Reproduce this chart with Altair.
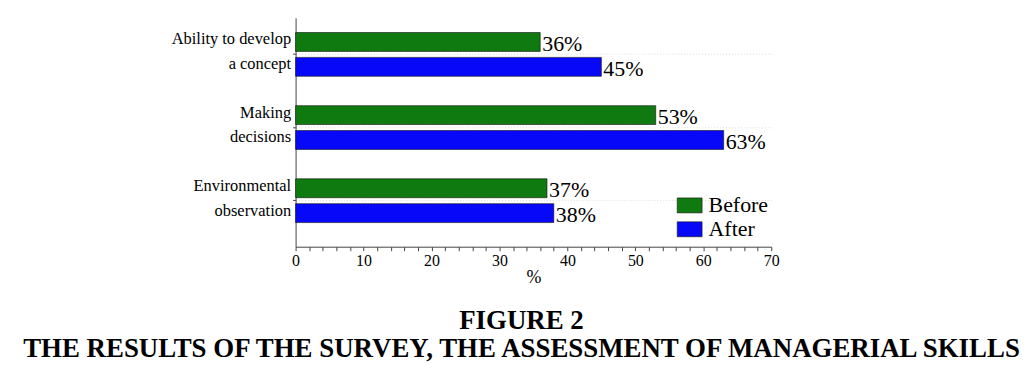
import altair as alt
import pandas as pd

categories = ["Ability to develop\na concept", "Making\ndecisions", "Environmental\nobservation"]
series = ["Before", "After"]
before = [36, 53, 37]
after = [45, 63, 38]
colors = ["#0f7a0f", "#0808f8"]
x_ticks = list(range(0, 71, 2))
title_lines = ["FIGURE 2", "THE RESULTS OF THE SURVEY, THE ASSESSMENT OF MANAGERIAL SKILLS"]

rows = []
for c, b, a in zip(categories, before, after):
    rows.append({"skill": c, "period": series[0], "value": b})
    rows.append({"skill": c, "period": series[1], "value": a})
df = pd.DataFrame(rows)

FONT = "Liberation Serif"

y_enc = alt.Y(
    "skill:N",
    sort=categories,
    scale=alt.Scale(paddingInner=0, paddingOuter=0.0646, align=0),
    axis=alt.Axis(
        title=None,
        labelExpr="split(datum.label, '\\n')",
        labelLineHeight=25,
        labelOffset=-15,
        labelFont=FONT,
        labelFontSize=16.5,
        labelColor="black",
        labelPadding=2,
        tickSize=3,
        tickColor="#444",
        domainColor="#444",
        grid=True,
        gridColor="#dddddd",
        gridDash=[1, 2],
    ),
)
yoff = alt.YOffset(
    "period:N",
    sort=series,
    scale=alt.Scale(paddingInner=0.24, paddingOuter=0.59),
)
x_enc = alt.X(
    "value:Q",
    scale=alt.Scale(domain=[0, 70], nice=False),
    axis=alt.Axis(
        title="%",
        titleFont=FONT,
        titleFontSize=18,
        titleFontWeight="normal",
        titleColor="black",
        titlePadding=0,
        values=x_ticks,
        labelExpr="datum.value % 10 == 0 ? datum.label : ''",
        labelOverlap=False,
        labelFont=FONT,
        labelFontSize=16,
        labelColor="black",
        labelPadding=2,
        tickSize=4,
        tickColor="#444",
        domainColor="#444",
        grid=False,
        labelFlush=False,
    ),
)

base = alt.Chart(df).transform_calculate(
    lbl="datum.value + '%'"
).encode(x=x_enc, y=y_enc, yOffset=yoff)

bars = base.mark_bar(stroke="#111", strokeWidth=0.6).encode(
    color=alt.Color(
        "period:N",
        sort=series,
        scale=alt.Scale(domain=series, range=colors),
        legend=alt.Legend(
            title=None,
            orient="none",
            legendX=383,
            legendY=175.5,
            padding=0,
            rowPadding=0,
            symbolType="M-1,-0.6H1V0.6H-1Z",
            symbolSize=625,
            symbolStrokeColor="#111",
            symbolStrokeWidth=0.6,
            symbolOpacity=1,
            labelFont=FONT,
            labelFontSize=22,
            labelColor="black",
            labelOffset=6,
        ),
    ),
)

labels = base.mark_text(
    align="left", baseline="middle", dx=2, dy=2, font=FONT, fontSize=22, color="black"
).encode(text="lbl:N")

chart = alt.layer(bars, labels).properties(
    width=478,
    height=230,
    background="white",
    autosize=alt.AutoSizeParams(type="none"),
    padding={"left": 289, "top": 9, "right": 256, "bottom": 116},
    title=alt.TitleParams(
        text=title_lines,
        orient="bottom",
        anchor="middle",
        font=FONT,
        fontSize=27,
        fontWeight="bold",
        color="black",
        lineHeight=28,
        offset=22,
        dx=-12,
    ),
).configure_view(strokeWidth=0, stroke="transparent")

chart.save("out.html", embed_options={"renderer": "svg", "actions": False})
